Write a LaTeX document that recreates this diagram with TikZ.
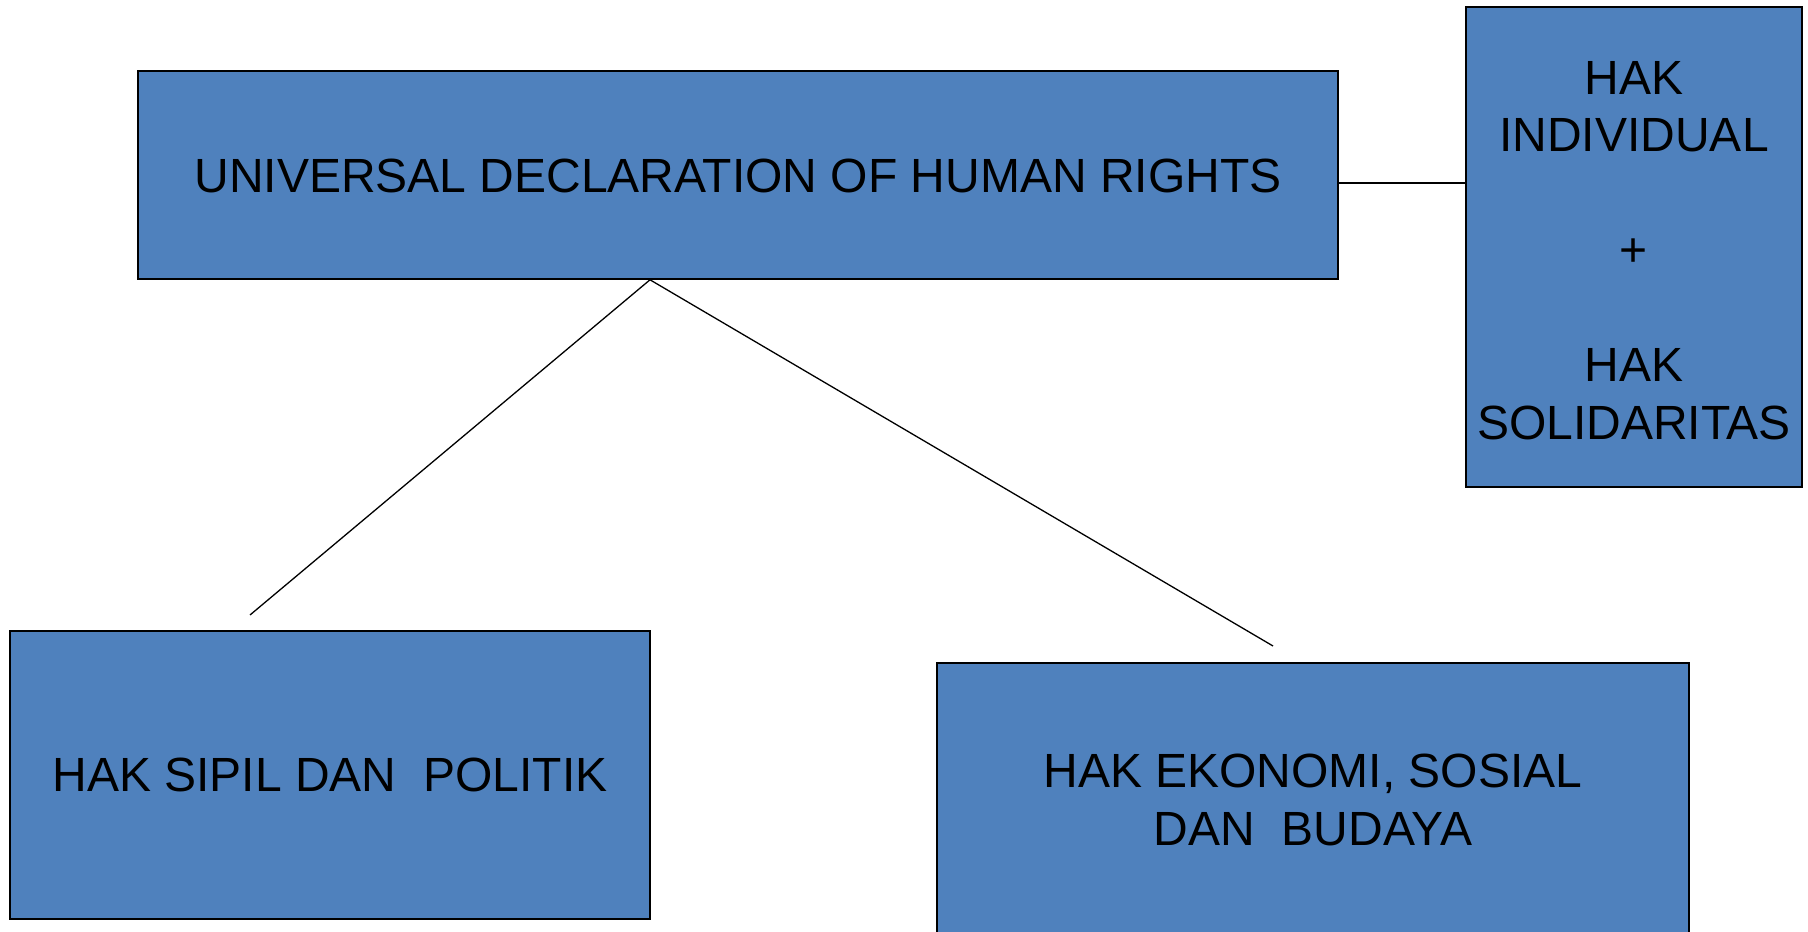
\documentclass[tikz,border=0pt]{standalone}
\usepackage{fontspec}
\setmainfont{Liberation Sans}
\definecolor{boxblue}{RGB}{79,129,189}
\begin{document}
\begin{tikzpicture}[x=1pt,y=1pt,
  box/.style={draw=black, line width=1.6pt, fill=boxblue, inner sep=0pt, align=center,
    font=\fontsize{48}{57.5}\selectfont},
  boxtext/.style={inner sep=0pt, align=center, font=\fontsize{48}{57.5}\selectfont},
  conn/.style={draw=black, line width=1.3pt}]
\useasboundingbox (0,0) rectangle (1808,932);
\clip (0,0) rectangle (1808,932);
\node[box, minimum width=1200, minimum height=208] (top) at (738,757) {};
\node[boxtext] (toptext) at ([yshift=-1pt]top.center) {UNIVERSAL DECLARATION OF HUMAN RIGHTS};
\node[box, minimum width=336, minimum height=480] (right) at (1634,685) {};
\node[boxtext] (righttext) at ([yshift=-3.5pt]right.center) {HAK\\INDIVIDUAL\\[57.5pt]+\\[57.5pt]HAK\\SOLIDARITAS};
\node[box, minimum width=640, minimum height=288] (left) at (330,157) {HAK SIPIL DAN\ \ POLITIK};
\node[box, minimum width=752, minimum height=274] (eco) at (1313,132) {HAK EKONOMI, SOSIAL\\DAN\ \ BUDAYA};
\coordinate (c1) at ([yshift=-8pt]top.east);
\coordinate (apex) at ([xshift=-88pt]top.south);
\coordinate (endL) at (250,317);
\coordinate (endR) at (1273,286);
\draw[conn] (c1) -- (c1 -| right.west);
\draw[conn] (apex) -- (endL);
\draw[conn] (apex) -- (endR);
\end{tikzpicture}
\end{document}
